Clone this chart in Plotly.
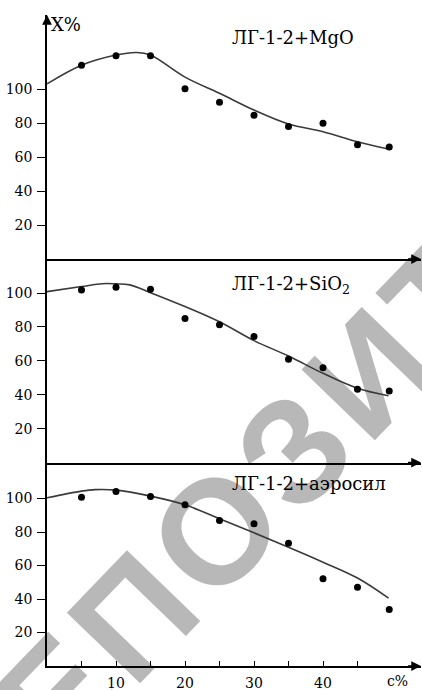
import base64
import math
import plotly.graph_objects as go

# ---------------- data ----------------
conc = [5, 10, 15, 20, 25, 30, 35, 40, 45, 49.6]

mgo_pts = [114, 119.6, 119.6, 100.2, 92.2, 84.5, 78, 79.8, 67.2, 65.9]
sio2_pts = [101.8, 103.4, 102.2, 85, 81.3, 74.4, 60.9, 55.9, 43.2, 42.2]
aero_pts = [100.8, 104.2, 101.2, 96.2, 86.9, 84.9, 73.3, 52.1, 47, 33.7]

mgo_fit_x = [0, 5, 10, 13, 15, 20, 25, 30, 35, 40, 45, 49.5]
mgo_fit_y = [103, 114, 120, 121.5, 120, 107, 97.5, 87.6, 79.4, 74.9, 69, 64.7]

sio2_fit_x = [0, 5, 8, 10, 12, 15, 20, 25, 30, 35, 40, 45, 49.5]
sio2_fit_y = [100.8, 103.8, 105.5, 105.4, 104.8, 100.2, 92, 83, 71.9, 62.8, 52.6, 43.8, 39.4]

aero_fit_x = [0, 5, 7, 10, 15, 20, 25, 30, 35, 40, 45, 49.5]
aero_fit_y = [100.4, 104.4, 105.3, 105, 101.4, 96.2, 87.9, 79.5, 70.9, 62, 52.5, 40.5]

y_ticks = [20, 40, 60, 80, 100]
x_ticks = [5, 10, 15, 20, 25, 30, 35, 40, 45]
x_ticktext = ["", "10", "", "20", "", "30", "", "40", ""]

titles = ["ЛГ-1-2+MgO", "ЛГ-1-2+SiO<sub>2</sub>", "ЛГ-1-2+аэросил"]

# ---------------- geometry ----------------
W, H = 422, 690
ML, MR, MT, MB = 47, 1, 15, 24
PW, PH = W - ML - MR, H - MT - MB
XMAX = PW / 6.9
h_bot, h_mid = 203.5, 203.5
d1 = h_bot / PH
d2 = (h_bot + h_mid) / PH
h_top = PH - h_bot - h_mid

SERIF = "DejaVu Serif"
LINE_C = "#3a3a3a"

fig = go.Figure()

panels = [
    ("x3", "y3", mgo_fit_x, mgo_fit_y, mgo_pts),
    ("x2", "y2", sio2_fit_x, sio2_fit_y, sio2_pts),
    ("x", "y", aero_fit_x, aero_fit_y, aero_pts),
]
for xa, ya, fx, fy, pts in panels:
    fig.add_trace(go.Scatter(x=fx, y=fy, mode="lines", xaxis=xa, yaxis=ya,
                             line=dict(color=LINE_C, width=1.6, shape="spline", smoothing=1.0),
                             showlegend=False, hoverinfo="skip"))
    fig.add_trace(go.Scatter(x=conc, y=pts, mode="markers", xaxis=xa, yaxis=ya,
                             marker=dict(color="black", size=7),
                             showlegend=False))

yax_common = dict(showline=True, linecolor="black", linewidth=1.5, ticks="outside",
                  ticklen=8, tickwidth=1.3, tickcolor="black", tickvals=y_ticks,
                  tickfont=dict(family=SERIF, size=14, color="black"),
                  ticklabelstandoff=2,
                  showgrid=False, zeroline=False, anchor="x", automargin=False)
xax_common = dict(range=[0, XMAX], showline=True, linecolor="black", linewidth=1.5,
                  showgrid=False, zeroline=False, domain=[0, 1], automargin=False)

# ---------------- watermark (decoration) ----------------
F = 148
LS = 8
ANG = 46
th = math.radians(ANG)
u = (math.cos(th), -math.sin(th))
up = (-math.sin(th), -math.cos(th))
cx, cy = 132, 615
adv = (0.667 + 0.667 + 0.361) * F + 2 * LS
bx = cx - adv * u[0] - 0.36 * F * up[0]
by = cy - adv * u[1] - 0.36 * F * up[1]
svg = (f"<svg xmlns='http://www.w3.org/2000/svg' width='{W}' height='{H}' viewBox='0 0 {W} {H}' "
       f"preserveAspectRatio='none'>"
       f"<text x='{bx:.1f}' y='{by:.1f}' transform='rotate(-{ANG} {bx:.1f} {by:.1f})' "
       f"font-family='Liberation Sans, Arial, sans-serif' font-weight='bold' font-size='{F}' "
       f"letter-spacing='{LS}' fill='#b8b8b8'>РЕПОЗИТОРИЙ</text></svg>")
src = "data:image/svg+xml;base64," + base64.b64encode(svg.encode("utf-8")).decode("ascii")

fig.update_layout(
    width=W, height=H,
    margin=dict(l=ML, r=MR, t=MT, b=MB, pad=0, autoexpand=False),
    paper_bgcolor="white", plot_bgcolor="rgba(0,0,0,0)",
    showlegend=False,
    xaxis=dict(**xax_common, anchor="y", ticks="inside", ticklen=5, tickwidth=1.3,
               tickcolor="black", tickvals=x_ticks, ticktext=x_ticktext,
               ticklabelstandoff=3,
               tickfont=dict(family=SERIF, size=14, color="black")),
    xaxis2=dict(**xax_common, anchor="y2", matches="x", showticklabels=False, ticks=""),
    xaxis3=dict(**xax_common, anchor="y3", matches="x", showticklabels=False, ticks=""),
    yaxis=dict(**yax_common, domain=[0, d1], range=[0, h_bot / 1.675]),
    yaxis2=dict(**yax_common, domain=[d1, d2], range=[0, h_mid / 1.695]),
    yaxis3=dict(**yax_common, domain=[d2, 1], range=[0, h_top / 1.7]),
    images=[dict(source=src, xref="paper", yref="paper",
                 x=-ML / PW, y=1 + MT / PH, sizex=W / PW, sizey=H / PH,
                 xanchor="left", yanchor="top", sizing="stretch", layer="below")],
)

def py(p):
    return (H - MB - p) / PH

def px(p):
    return (p - ML) / PW

ann = []
# panel titles
for t, ypix in zip(titles, [37, 285, 483]):
    ann.append(dict(text=t, xref="paper", yref="paper", x=px(230), y=py(ypix),
                    xanchor="left", yanchor="middle", showarrow=False,
                    font=dict(family=SERIF, size=18, color="black")))
# axis labels
ann.append(dict(text="X%", xref="paper", yref="paper", x=px(49), y=py(24),
                xanchor="left", yanchor="middle", showarrow=False,
                font=dict(family=SERIF, size=18, color="black")))
ann.append(dict(text="c%", xref="paper", yref="paper", x=px(397), y=py(681),
                xanchor="center", yanchor="middle", showarrow=False,
                font=dict(family=SERIF, size=14, color="black")))
# arrow heads (axis decoration)
for ypix in [259, 462.5, 666]:
    ann.append(dict(x=1, y=py(ypix), xref="paper", yref="paper", ax=-16, ay=0, text=" ",
                    showarrow=True, arrowhead=2, arrowsize=1.3, arrowwidth=1.5,
                    arrowcolor="black", standoff=0, startstandoff=0))
ann.append(dict(x=0, y=1, xref="paper", yref="paper", ax=0, ay=16, text=" ",
                showarrow=True, arrowhead=2, arrowsize=1.3, arrowwidth=1.5,
                arrowcolor="black", standoff=0, startstandoff=0))
fig.update_layout(annotations=ann)

fig.write_html("out.html", config={"displayModeBar": False},
               post_script="document.body.style.margin='0';document.body.style.overflow='hidden';")
